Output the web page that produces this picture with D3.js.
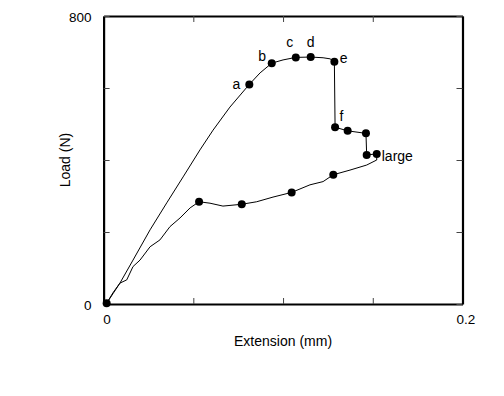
<!DOCTYPE html>
<html>
<head>
<meta charset="utf-8">
<script src="https://cdn.jsdelivr.net/npm/d3@7"></script>
<style>
  body { margin: 0; background: #fff; }
  text { font-family: "Liberation Sans", Arial, sans-serif; fill: #000; }
</style>
</head>
<body>
<svg id="chart" width="504" height="396"></svg>
<script>
// loading curve (upper branch), extension in mm, load in N
var upperX = [0.0017, 0.0052, 0.0091, 0.0164, 0.0259, 0.0352, 0.0443, 0.0537, 0.0610, 0.0704,
              0.0812, 0.0872, 0.0937, 0.1000, 0.1071, 0.1154, 0.1223, 0.1262, 0.1286,
              0.1290, 0.1360, 0.1462, 0.1466, 0.1522];
var upperY = [2, 31, 58, 122, 206, 281, 353, 428, 483, 547,
              610, 642, 669, 678, 685, 686, 684, 681, 673,
              491, 481, 474, 414, 417];

// lower branch, from origin to the "large" point
var lowerX = [0.0017, 0.0054, 0.0091, 0.0129, 0.0164, 0.0203, 0.0259, 0.0314, 0.0370, 0.0426,
              0.0482, 0.0532, 0.0593, 0.0665, 0.0770, 0.0853, 0.0944, 0.1048, 0.1150, 0.1223,
              0.1280, 0.1373, 0.1466, 0.1522, 0.1522];
var lowerY = [2, 30, 58, 67, 104, 122, 159, 178, 215, 239,
              267, 284, 280, 272, 277, 284, 297, 310, 331, 340,
              359, 372, 386, 400, 417];

// measured points (dots)
var markX = [0.0017, 0.0812, 0.0937, 0.1071, 0.1154, 0.1286, 0.1290, 0.1360, 0.1462, 0.1466, 0.1522,
             0.1280, 0.1048, 0.0770, 0.0532];
var markY = [2, 610, 669, 685, 686, 673, 491, 481, 474, 414, 417,
             359, 310, 277, 284];

// point labels
var labelText = ["a", "b", "c", "d", "e", "f", "large"];
var labelX = [0.0740, 0.0884, 0.1038, 0.1154, 0.1337, 0.1326, 0.1550];
var labelY = [610, 688, 728, 728, 683, 523, 412];
var labelAnchor = ["middle", "middle", "middle", "middle", "middle", "middle", "start"];

var xTicks = [0, 0.05, 0.1, 0.15, 0.2];
var yTicks = [0, 200, 400, 600, 800];
var xTickLabels = ["0", "", "", "", "0.2"];
var yTickLabels = ["0", "", "", "", "800"];

var svg = d3.select("#chart");
var plot = {left: 103.6, right: 462.5, top: 16, bottom: 304};

var x = d3.scaleLinear().domain([0, 0.2]).range([plot.left, plot.right]);
var y = d3.scaleLinear().domain([0, 800]).range([plot.bottom, plot.top]);

// frame axes, ticks pointing inward
var gBottom = svg.append("g").attr("transform", "translate(0," + plot.bottom + ")")
  .call(d3.axisBottom(x).tickValues(xTicks).tickSize(-6).tickSizeOuter(0)
    .tickFormat(function(d, i) { return xTickLabels[i]; }));
svg.append("g").attr("transform", "translate(0," + plot.top + ")")
  .call(d3.axisTop(x).tickValues(xTicks).tickSize(-6).tickSizeOuter(0).tickFormat(""));
var gLeft = svg.append("g").attr("transform", "translate(" + plot.left + ",0)")
  .call(d3.axisLeft(y).tickValues(yTicks).tickSize(-6).tickSizeOuter(0)
    .tickFormat(function(d, i) { return yTickLabels[i]; }));
svg.append("g").attr("transform", "translate(" + plot.right + ",0)")
  .call(d3.axisRight(y).tickValues(yTicks).tickSize(-6).tickSizeOuter(0).tickFormat(""));

svg.selectAll(".domain").attr("stroke", "#000").attr("stroke-width", 2.2);
svg.selectAll(".tick line").attr("stroke", "#444").attr("stroke-width", 1);
svg.selectAll(".tick text").attr("font-size", "13.5px").attr("font-family", "Liberation Sans, Arial, sans-serif");
// nudge labels like the original
gBottom.selectAll(".tick text").attr("dx", "3").attr("y", 10);
gLeft.selectAll(".tick text").attr("x", -12).attr("dy", "0.4em");

// curves
var line = d3.line().x(function(d) { return x(d[0]); }).y(function(d) { return y(d[1]); });
svg.append("path")
  .datum(upperX.map(function(v, i) { return [v, upperY[i]]; }))
  .attr("d", line).attr("fill", "none").attr("stroke", "#000").attr("stroke-width", 1);
svg.append("path")
  .datum(lowerX.map(function(v, i) { return [v, lowerY[i]]; }))
  .attr("d", line).attr("fill", "none").attr("stroke", "#000").attr("stroke-width", 1);

svg.selectAll(".dot")
  .data(markX.map(function(v, i) { return [v, markY[i]]; }))
  .enter().append("circle")
  .attr("class", "dot")
  .attr("cx", function(d) { return x(d[0]); })
  .attr("cy", function(d) { return y(d[1]); })
  .attr("r", 4)
  .attr("fill", "#000");

svg.selectAll(".plabel")
  .data(labelText)
  .enter().append("text")
  .attr("class", "plabel")
  .attr("x", function(d, i) { return x(labelX[i]); })
  .attr("y", function(d, i) { return y(labelY[i]); })
  .attr("dy", "0.35em")
  .attr("text-anchor", function(d, i) { return labelAnchor[i]; })
  .attr("font-size", "14px")
  .text(function(d) { return d; });

// axis titles
svg.append("text")
  .attr("x", (plot.left + plot.right) / 2)
  .attr("y", 346)
  .attr("text-anchor", "middle")
  .attr("font-size", "14px")
  .text("Extension (mm)");

svg.append("text")
  .attr("transform", "translate(70," + (plot.top + plot.bottom) / 2 + ") rotate(-90)")
  .attr("text-anchor", "middle")
  .attr("font-size", "14px")
  .text("Load (N)");
</script>
</body>
</html>
